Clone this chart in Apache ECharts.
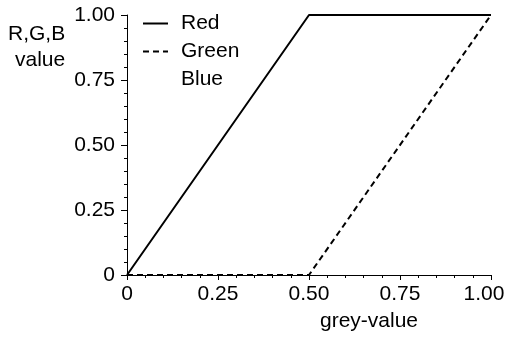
<!DOCTYPE html>
<html>
<head>
<meta charset="utf-8">
<script src="https://cdn.jsdelivr.net/npm/echarts@6/dist/echarts.min.js"></script>
<style>
  html, body { margin: 0; padding: 0; background: #fff; }
  #chart { width: 508px; height: 338px; }
</style>
</head>
<body>
<div id="chart"></div>
<script>
// Grey-scale to RGB mapping: each channel as a function of the grey value
const greyValues = [0, 0.5, 1];
const redValues = [0, 1, 1];
const greenValues = [0, 0, 1];
const blueValues = [0, 0, 0];
const tickLabels = ['0', '0.25', '0.50', '0.75', '1.00'];

const FONT = 'Liberation Sans, Arial, sans-serif';
const FS = 21;
const tickText = v => tickLabels[Math.round(v / 0.25)];
// last x label is nudged left so it stays inside the canvas
const xTickText = v => (v >= 1 ? '{last|' + tickText(v) + '}' : tickText(v));

const pairs = ys => greyValues.map((x, i) => [x, ys[i]]);

const chart = echarts.init(document.getElementById('chart'), null, { renderer: 'canvas' });

const axisCommon = {
  type: 'value',
  min: 0,
  max: 1,
  interval: 0.25,
  splitLine: { show: false },
  axisLine: { show: true, onZero: false, lineStyle: { color: '#000', width: 1 } },
  minorTick: { show: true, splitNumber: 5, length: 3, lineStyle: { color: '#000', width: 1 } },
  minorSplitLine: { show: false }
};

chart.setOption({
  animation: false,
  backgroundColor: '#fff',
  grid: { left: 127, right: 17, top: 15, bottom: 63, containLabel: false, outerBoundsMode: 'none' },
  xAxis: Object.assign({}, axisCommon, {
    axisTick: { show: true, length: 5, lineStyle: { color: '#000', width: 1 } },
    axisLabel: {
      color: '#000', fontFamily: FONT, fontSize: FS, margin: 9, formatter: xTickText,
      rich: { last: { fontFamily: FONT, fontSize: FS, color: '#000', padding: [0, 14, 0, 0] } }
    }
  }),
  yAxis: Object.assign({}, axisCommon, {
    axisTick: { show: true, length: 6, lineStyle: { color: '#000', width: 1 } },
    axisLabel: { color: '#000', fontFamily: FONT, fontSize: FS, margin: 12, formatter: tickText }
  }),
  legend: {
    orient: 'vertical',
    left: 137,
    top: 8,
    itemGap: 7,
    itemWidth: 25,
    itemHeight: 21,
    itemTextGap: 5,
    itemStyle: { opacity: 0 },
    textStyle: { color: '#000', fontFamily: FONT, fontSize: FS, padding: [0, 0, 0, 8] },
    data: ['Red', 'Green', 'Blue']
  },
  graphic: [
    {
      type: 'text', left: 8, top: 24,
      style: { text: 'R,G,B', font: FS + 'px ' + FONT, fill: '#000' }
    },
    {
      type: 'text', left: 15, top: 50,
      style: { text: 'value', font: FS + 'px ' + FONT, fill: '#000' }
    },
    {
      type: 'text', left: 320, top: 311,
      style: { text: 'grey-value', font: FS + 'px ' + FONT, fill: '#000' }
    }
  ],
  series: [
    {
      name: 'Red', type: 'line', data: pairs(redValues), symbol: 'none',
      color: '#000', lineStyle: { color: '#000', width: 2, type: 'solid' }
    },
    {
      name: 'Green', type: 'line', data: pairs(greenValues), symbol: 'none',
      color: '#000', lineStyle: { color: '#000', width: 2, type: [6, 4] }
    },
    {
      name: 'Blue', type: 'line', data: pairs(blueValues), symbol: 'none',
      color: 'rgba(0,0,0,0)', lineStyle: { color: 'rgba(0,0,0,0)', width: 2 }
    }
  ]
});
</script>
</body>
</html>
